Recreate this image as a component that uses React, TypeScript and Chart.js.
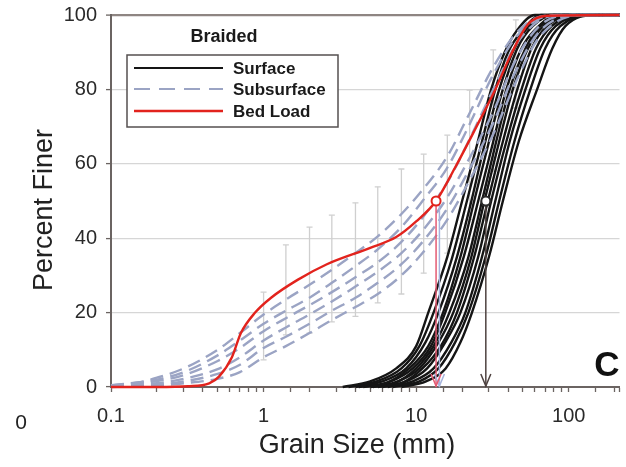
import { useEffect, useRef } from 'react';
import { Chart, registerables } from 'chart.js';

Chart.register(...registerables);

const FONT = '"Liberation Sans", Arial, Helvetica, sans-serif';

// Grain-size distributions: [grain size (mm), percent finer]
const surfaceCurves: [number, number][][] = [
  [[3.3, 0], [5, 1.5], [7.4, 5], [10, 11], [12, 20], [16, 35], [20, 50], [25, 65], [31, 80], [38, 90], [46, 96], [60, 100], [215, 100]],
  [[3.6, 0], [5.5, 1.5], [8, 5], [10.5, 11], [13, 20], [17, 34], [21.5, 50], [27, 66], [33, 80], [40, 90], [50, 96], [66, 100], [215, 100]],
  [[4, 0], [6, 1.5], [8.6, 5], [11.5, 12], [14, 20], [18.5, 35], [23, 50], [28, 65], [35, 80], [44, 91], [55, 97], [75, 100], [215, 100]],
  [[4.2, 0], [6.3, 1], [9, 5], [12, 11], [15, 20], [19.5, 35], [24, 50], [30, 66], [37, 80], [46, 91], [58, 97], [80, 100], [215, 100]],
  [[4.5, 0], [6.8, 1.5], [9.5, 5], [12.5, 11], [15.5, 20], [20.5, 35], [25.5, 50], [32, 66], [39, 80], [49, 91], [60, 96], [85, 100], [215, 100]],
  [[5, 0], [7.2, 1], [10, 5], [13, 11], [16.5, 20], [22, 35], [27, 50], [33, 65], [41, 80], [52, 91], [65, 97], [95, 100], [215, 100]],
  [[5.2, 0], [7.6, 1.5], [10.5, 5], [14, 12], [17.5, 20], [23, 35], [28, 50], [35, 66], [43, 80], [54, 91], [68, 97], [100, 100], [215, 100]],
  [[5.6, 0], [8, 1], [11, 5], [14.5, 11], [18.5, 20], [24, 35], [29.5, 50], [37, 66], [46, 80], [57, 91], [72, 97], [110, 100], [215, 100]],
  [[6, 0], [8.6, 1.5], [11.8, 5], [15.5, 12], [19.5, 20], [25.5, 35], [31, 50], [39, 66], [49, 80], [61, 91], [77, 97], [120, 100], [215, 100]],
  [[6.5, 0], [9.5, 1.5], [13, 5], [17, 12], [21, 20], [27, 35], [33, 50], [41, 66], [52, 80], [65, 91], [82, 97], [130, 100], [215, 100]],
  [[7, 0], [10.5, 1.5], [14, 5], [18, 12], [22, 20], [28.5, 35], [35, 50], [44, 66], [56, 80], [70, 91], [88, 97], [140, 100], [215, 100]],
  [[8, 0], [11.6, 1.5], [15.6, 5], [19.5, 12], [23.2, 20], [30, 35], [37, 50], [47, 66], [62, 80], [78, 91], [95, 97], [150, 100], [215, 100]],
];

const subsurfaceCurves: [number, number][][] = [
  [[0.1, 0.5], [0.15, 1.2], [0.2, 2.5], [0.3, 5], [0.5, 10], [0.7, 14.5], [1, 19.5], [1.4, 23.5], [2, 27.5], [2.8, 31.5], [4, 36], [5.6, 40.5], [8, 46.5], [11, 53], [16, 62], [22, 73], [32, 86], [45, 95], [64, 99.5], [90, 100], [215, 100]],
  [[0.1, 0.4], [0.2, 2], [0.3, 4], [0.5, 8.5], [0.7, 12.5], [1, 17], [1.4, 20.5], [2, 24], [2.8, 28], [4, 32.5], [5.6, 37], [8, 43], [11, 50], [16, 59], [22, 70], [32, 84], [45, 94], [64, 99], [90, 100], [215, 100]],
  [[0.1, 0.3], [0.2, 1.6], [0.3, 3.2], [0.5, 7], [0.7, 10.5], [1, 15], [1.4, 18.5], [2, 22], [2.8, 25.5], [4, 29.5], [5.6, 33.5], [8, 39], [11, 45.5], [16, 55], [22, 66], [32, 80], [45, 92], [64, 98.5], [90, 100], [215, 100]],
  [[0.1, 0.2], [0.2, 1], [0.3, 2.2], [0.5, 4.8], [0.7, 8], [1, 12.5], [1.4, 16], [2, 19.5], [2.8, 23], [4, 27], [5.6, 31], [8, 36], [11, 42], [16, 51], [22, 61], [32, 74], [45, 88], [64, 97], [100, 100], [215, 100]],
  [[0.1, 0.1], [0.2, 0.6], [0.3, 1.5], [0.5, 3.5], [0.7, 6], [1, 10.5], [1.4, 13.5], [2, 17], [2.8, 20.5], [4, 24], [5.6, 28], [8, 33], [11, 39], [16, 48], [22, 58], [32, 71], [45, 85], [64, 95.5], [110, 100], [215, 100]],
  [[0.1, 0], [0.2, 0.4], [0.3, 1], [0.5, 2.2], [0.7, 4], [1, 8], [1.4, 11], [2, 14.5], [2.8, 18], [4, 21.5], [5.6, 25], [8, 30], [11, 36], [16, 45], [22, 55], [32, 68], [45, 82], [64, 94], [120, 100], [215, 100]],
];

const bedLoadCurve: [number, number][] = [
  [0.1, 0], [0.2, 0], [0.32, 0.2], [0.44, 1], [0.51, 2.8], [0.62, 8], [0.71, 14.5], [0.88, 20],
  [1.12, 24], [1.67, 28.8], [2.6, 33], [5, 37.4], [7.4, 40.3], [10, 44.5], [13.5, 50], [18, 59],
  [24.5, 69.5], [33, 80], [42.5, 90], [54, 97.5], [72, 99.8], [215, 100],
];

// Subsurface spread at each sieve size
const sieveSizes = [1, 1.4, 2, 2.8, 4, 5.6, 8, 11.2, 16, 22.4, 32, 45];
const spreadLow = [7.3, 14, 14.5, 17.5, 19, 22.6, 25, 30.6, 36, 45, 58, 75];
const spreadHigh = [25.5, 38.2, 43, 46.2, 49.5, 53.8, 58.6, 62.6, 67.7, 79.8, 90.6, 98.7];

// Median grain sizes (D50)
const d50BedLoad = 13.5;
const d50Subsurface = 14.2;
const d50Surface = 28.6;

const xMin = 0.1;
const xMax = 215;
const yTickStep = 20;
const legendTitle = 'Braided';
const legendLabels = ['Surface', 'Subsurface', 'Bed Load'];
const panelLetter = 'C';
const strayLabel = '0';
const xTitle = 'Grain Size (mm)';
const yTitle = 'Percent Finer';

const BLACK = '#151515';
const SUB = '#9ba4c4';
const RED = '#e2231d';
const AXIS = '#6b6462';

const toPoints = (c: [number, number][]) => c.map(([x, y]) => ({ x, y }));

export default function App() {
  const ref = useRef<HTMLCanvasElement>(null);

  useEffect(() => {
    if (!ref.current) return;

    const barData: { x: number; y: number | null }[] = [];
    sieveSizes.forEach((s, i) => {
      barData.push({ x: s, y: spreadLow[i] });
      barData.push({ x: s, y: spreadHigh[i] });
      barData.push({ x: s, y: null });
    });

    const datasets: any[] = [];
    datasets.push({
      label: 'spread',
      data: barData,
      borderColor: '#cfcfcf',
      borderWidth: 1.3,
      pointStyle: 'line',
      pointRadius: 3,
      pointBorderColor: '#cfcfcf',
      pointBorderWidth: 1.3,
      spanGaps: false,
      order: 10,
    });
    surfaceCurves.forEach((c, i) =>
      datasets.push({
        label: 'Surface ' + (i + 1),
        data: toPoints(c),
        borderColor: BLACK,
        borderWidth: 2.4,
        pointRadius: 0,
        cubicInterpolationMode: 'monotone',
        clip: 3,
        order: 8,
      })
    );
    subsurfaceCurves.forEach((c, i) =>
      datasets.push({
        label: 'Subsurface ' + (i + 1),
        data: toPoints(c),
        borderColor: SUB,
        borderWidth: 2.4,
        borderDash: [13, 7],
        pointRadius: 0,
        cubicInterpolationMode: 'monotone',
        clip: 3,
        order: 6,
      })
    );
    const arrows = [
      { x: d50Subsurface, color: '#a6b3dc' },
      { x: d50BedLoad, color: '#e45a72' },
      { x: d50Surface, color: '#4e4240' },
    ];
    arrows.forEach((a) =>
      datasets.push({
        label: 'D50 ' + a.x,
        data: [{ x: a.x, y: 50 }, { x: a.x, y: 0 }],
        borderColor: a.color,
        borderWidth: 1.5,
        pointRadius: 0,
        order: 4,
      })
    );
    datasets.push({
      label: 'Bed Load',
      data: toPoints(bedLoadCurve),
      borderColor: RED,
      borderWidth: 2.4,
      pointRadius: 0,
      cubicInterpolationMode: 'monotone',
      clip: 3,
      order: 2,
    });
    datasets.push({
      label: 'D50 markers',
      data: [{ x: d50BedLoad, y: 50 }, { x: d50Surface, y: 50 }],
      showLine: false,
      pointRadius: 4.5,
      pointBackgroundColor: '#ffffff',
      pointBorderColor: [RED, '#2a2a2a'],
      pointBorderWidth: 2,
      order: 0,
    });

    const decorations = {
      id: 'decorations',
      afterDatasetsDraw(chart: any) {
        const { ctx, scales } = chart;
        const xs = scales.x;
        const ys = scales.y;
        ctx.save();
        // arrowheads on the D50 drop lines
        arrows.forEach((a) => {
          const px = xs.getPixelForValue(a.x);
          const py = ys.getPixelForValue(0);
          ctx.strokeStyle = a.color;
          ctx.lineWidth = 1.5;
          ctx.beginPath();
          ctx.moveTo(px - 5, py - 13);
          ctx.lineTo(px, py - 1);
          ctx.lineTo(px + 5, py - 13);
          ctx.stroke();
        });

        // legend
        ctx.fillStyle = '#1a1a1a';
        ctx.font = `bold 18px ${FONT}`;
        ctx.textAlign = 'center';
        ctx.textBaseline = 'middle';
        ctx.fillText(legendTitle, 224, 37);

        ctx.fillStyle = '#ffffff';
        ctx.fillRect(127, 55, 211, 72);
        ctx.strokeStyle = '#555050';
        ctx.lineWidth = 1.5;
        ctx.strokeRect(127, 55, 211, 72);
        const styles = [
          { color: BLACK, dash: [] as number[], w: 2.2 },
          { color: SUB, dash: [16, 9], w: 2.2 },
          { color: RED, dash: [] as number[], w: 2.4 },
        ];
        const rowsY = [68, 89, 111];
        legendLabels.forEach((lab, i) => {
          ctx.strokeStyle = styles[i].color;
          ctx.lineWidth = styles[i].w;
          ctx.setLineDash(styles[i].dash);
          ctx.beginPath();
          ctx.moveTo(134, rowsY[i]);
          ctx.lineTo(223, rowsY[i]);
          ctx.stroke();
          ctx.setLineDash([]);
          ctx.fillStyle = '#1a1a1a';
          ctx.font = `bold 17px ${FONT}`;
          ctx.textAlign = 'left';
          ctx.fillText(lab, 233, rowsY[i] + 1);
        });

        // panel letter
        ctx.fillStyle = '#111111';
        ctx.font = `bold 35px ${FONT}`;
        ctx.textAlign = 'center';
        ctx.fillText(panelLetter, 607, 366);

        // stray label in the lower-left margin
        ctx.font = `21px ${FONT}`;
        ctx.fillStyle = '#222222';
        ctx.fillText(strayLabel, 21, 423);

        // axis titles
        ctx.font = `27px ${FONT}`;
        ctx.fillText(xTitle, 357, 446);
        ctx.translate(45, 210);
        ctx.rotate(-Math.PI / 2);
        ctx.fillText(yTitle, 0, 0);
        ctx.restore();
      },
    };

    const chart = new Chart(ref.current, {
      type: 'line',
      data: { datasets },
      plugins: [decorations],
      options: {
        animation: false,
        responsive: true,
        maintainAspectRatio: false,
        layout: { padding: { top: 15, right: 0, left: 0, bottom: 0 } },
        plugins: { legend: { display: false }, tooltip: { enabled: false } },
        scales: {
          x: {
            type: 'logarithmic',
            min: xMin,
            max: xMax,
            afterFit: (s: any) => {
              s.height = 80;
              s.paddingLeft = 0;
              s.paddingRight = 0;
            },
            border: { color: AXIS, width: 2 },
            grid: {
              drawOnChartArea: false,
              drawTicks: true,
              tickLength: 5,
              tickColor: AXIS,
              tickWidth: 1.3,
            },
            ticks: {
              autoSkip: false,
              maxRotation: 0,
              padding: 12,
              color: '#2a2a2a',
              font: { family: FONT, size: 20 },
              callback: (v: any) => {
                const val = Number(v);
                const lg = Math.log10(val);
                if (Math.abs(lg - Math.round(lg)) < 1e-6) {
                  return val < 1 ? val.toFixed(1) : String(Math.round(val));
                }
                return '';
              },
            },
          },
          y: {
            type: 'linear',
            min: 0,
            max: 100,
            afterFit: (s: any) => {
              s.width = 111;
              s.paddingTop = 0;
              s.paddingBottom = 0;
            },
            border: { color: AXIS, width: 2 },
            grid: {
              color: (c: any) =>
                c.tick && c.tick.value === 100 ? '#8e8582' : c.tick && c.tick.value === 0 ? AXIS : '#d6d6d6',
              lineWidth: (c: any) => (c.tick && c.tick.value === 100 ? 2.2 : 1.2),
              tickLength: 5,
              tickColor: AXIS,
              tickWidth: 1.3,
            },
            ticks: {
              stepSize: yTickStep,
              padding: 9,
              color: '#2a2a2a',
              font: { family: FONT, size: 20 },
            },
          },
        },
      },
    });

    return () => chart.destroy();
  }, []);

  return (
    <div style={{ position: 'fixed', left: 0, top: 0, width: 626, height: 467, background: '#ffffff' }}>
      <canvas ref={ref} />
    </div>
  );
}
